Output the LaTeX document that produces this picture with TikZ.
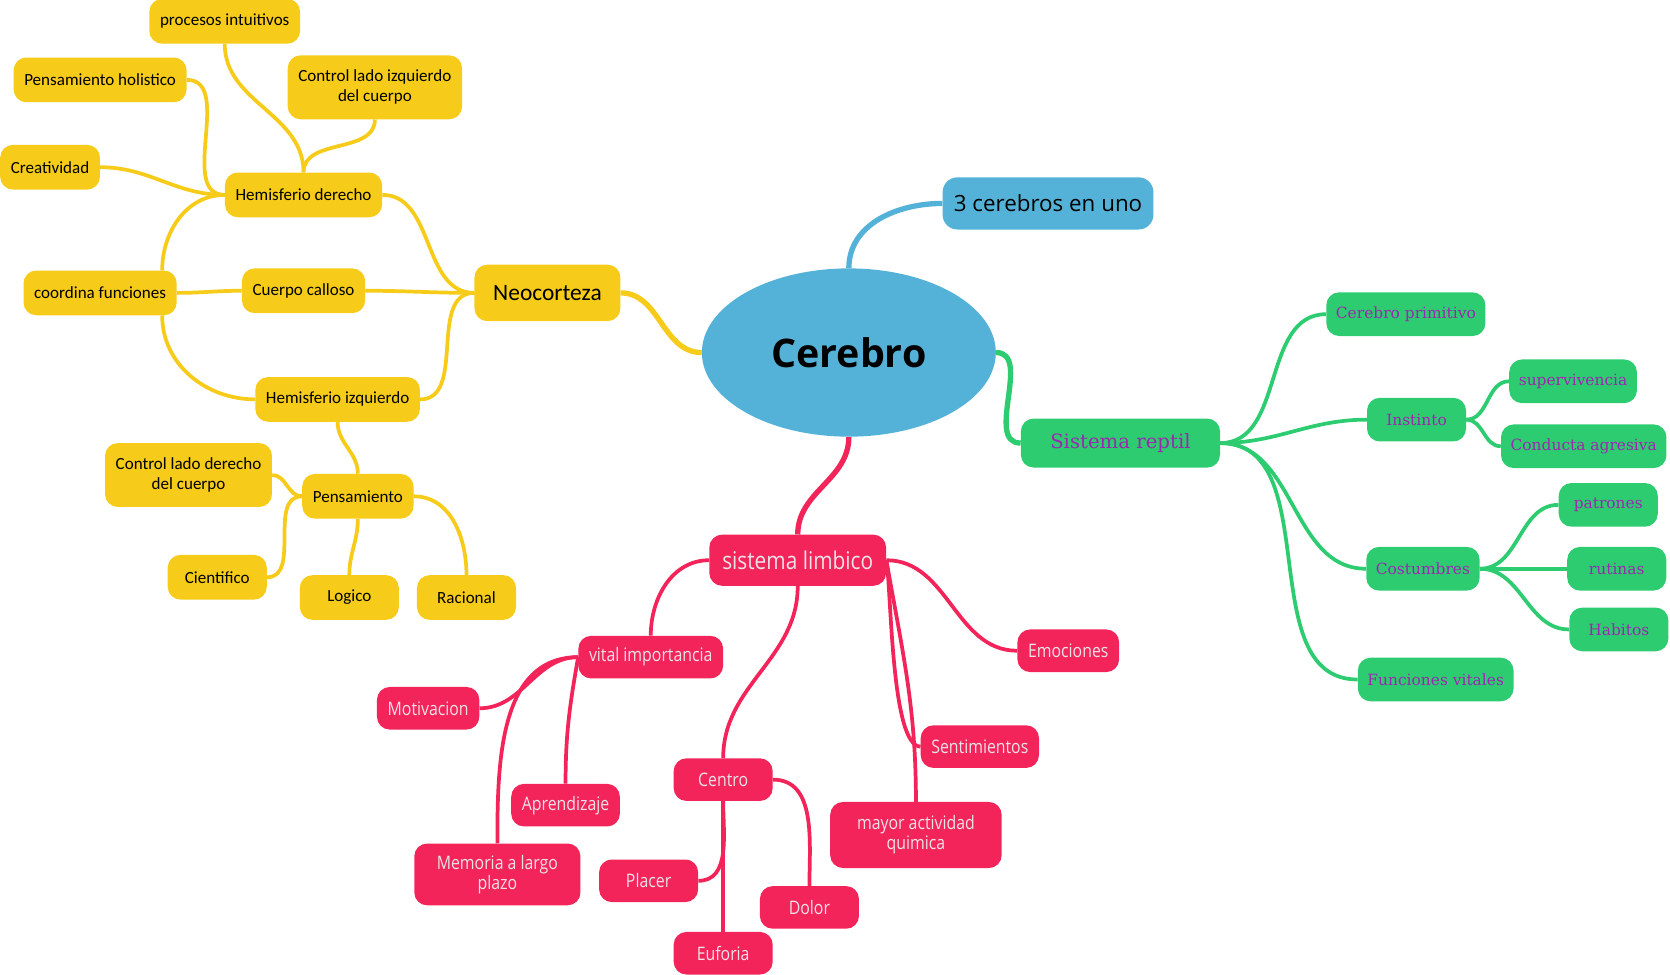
\documentclass[tikz,border=0pt]{standalone}
\usepackage{fontspec}
\setmainfont{Open Sans}
\newfontfamily\handfont{Carlito}
\newfontfamily\slabfont{DejaVu Serif}
\newfontfamily\condfont[FakeStretch=0.85]{Open Sans}
\usepackage{tikz}
\usetikzlibrary{backgrounds, shapes.geometric}
\definecolor{mapyellow}{RGB}{246,203,26}
\definecolor{mapgreen}{RGB}{46,204,113}
\definecolor{mappink}{RGB}{242,36,89}
\definecolor{mapblue}{RGB}{84,178,216}
\definecolor{mappurple}{RGB}{156,39,176}
\definecolor{pinktext}{RGB}{234,226,232}

\begin{document}
\begin{tikzpicture}[x=1pt, y=1pt,
    every node/.style={rounded corners=12pt, align=center, inner ysep=0pt},
    yelbox/.style={fill=mapyellow, text=black, font=\handfont\fontsize{16}{19}\selectfont, inner xsep=10pt, minimum height=42pt, minimum width=93pt},
    grnbox/.style={fill=mapgreen, text=mappurple, font=\slabfont\fontsize{14.5}{17}\selectfont, inner xsep=9pt, minimum height=41pt, minimum width=93pt},
    pnkbox/.style={fill=mappink, text=pinktext, font=\condfont\fontsize{17.5}{19}\selectfont, inner xsep=10pt, minimum height=40pt, minimum width=93pt},
    rootlink/.style={line width=5pt},
    ylink/.style={draw=mapyellow, line width=3.5pt},
    glink/.style={draw=mapgreen, line width=3.5pt},
    plink/.style={draw=mappink, line width=3.5pt}]
    \useasboundingbox (0,0) rectangle (1568,-915);

    \node[fill=mapblue, ellipse, minimum width=276pt, minimum height=158pt, font=\bfseries\fontsize{37}{40}\selectfont] (cer) at (797,-331) {Cerebro};
    \node[fill=mapblue, rounded corners=14pt, minimum width=198pt, minimum height=49pt, font=\fontsize{21}{24}\selectfont] (tres) at (984,-191) {3 cerebros en uno};

    % Neocorteza
    \node[yelbox, font=\handfont\fontsize{22}{26}\selectfont, minimum width=137pt, minimum height=53pt] (neo) at (514,-275) {Neocorteza};
    \node[yelbox] (hd) at (285,-183) {Hemisferio derecho};
    \node[yelbox] (proc) at (211,-20) {procesos intuitivos};
    \node[yelbox] (hol) at (94,-75) {Pensamiento holistico};
    \node[yelbox, minimum height=60pt] (ctrli) at (352,-82) {Control lado izquierdo\\del cuerpo};
    \node[yelbox] (crea) at (47,-157) {Creatividad};
    \node[yelbox] (coord) at (94,-275) {coordina funciones};
    \node[yelbox] (cc) at (285,-273) {Cuerpo calloso};
    \node[yelbox] (hi) at (317,-375) {Hemisferio izquierdo};
    \node[yelbox] (pen) at (336,-466) {Pensamiento};
    \node[yelbox, minimum height=60pt] (ctrld) at (177,-446) {Control lado derecho\\del cuerpo};
    \node[yelbox] (cien) at (204,-542) {Cientifico};
    \node[yelbox] (log) at (328,-561) {Logico};
    \node[yelbox] (rac) at (438,-561) {Racional};

    % Sistema reptil
    \node[grnbox, font=\slabfont\fontsize{18.5}{22}\selectfont, minimum width=187pt, minimum height=46pt] (rep) at (1052,-416) {Sistema reptil};
    \node[grnbox] (prim) at (1320,-295) {Cerebro primitivo};
    \node[grnbox] (inst) at (1330,-394) {Instinto};
    \node[grnbox] (sup) at (1477,-358) {supervivencia};
    \node[grnbox] (cond) at (1487,-419) {Conducta agresiva};
    \node[grnbox] (cost) at (1336,-534) {Costumbres};
    \node[grnbox] (pat) at (1510,-474) {patrones};
    \node[grnbox] (rut) at (1518,-534) {rutinas};
    \node[grnbox] (hab) at (1520,-591) {Habitos};
    \node[grnbox] (func) at (1348,-638) {Funciones vitales};

    % sistema limbico
    \node[pnkbox, font=\condfont\fontsize{23}{26}\selectfont, minimum width=166pt, minimum height=48pt] (lim) at (749,-526) {sistema limbico};
    \node[pnkbox] (vital) at (611,-617) {vital importancia};
    \node[pnkbox] (mot) at (402,-665) {Motivacion};
    \node[pnkbox] (apr) at (531,-756) {Aprendizaje};
    \node[pnkbox, minimum width=156pt, minimum height=58pt] (mem) at (467,-821) {Memoria a largo\\plazo};
    \node[pnkbox] (cen) at (679,-732) {Centro};
    \node[pnkbox] (pla) at (609,-827) {Placer};
    \node[pnkbox] (dol) at (760,-852) {Dolor};
    \node[pnkbox] (euf) at (679,-895) {Euforia};
    \node[pnkbox] (emo) at (1003,-611) {Emociones};
    \node[pnkbox] (sent) at (920,-701) {Sentimientos};
    \node[pnkbox, minimum width=161pt, minimum height=62pt] (quim) at (860,-784) {mayor actividad\\quimica};

    \begin{pgfonlayer}{background}
    \draw[rootlink, mapblue] (cer.north) to[out=90,in=180] (tres.west);
    \draw[rootlink, mapyellow] (cer.west) to[out=180,in=0] (neo.east);
    \draw[rootlink, mapgreen] (cer.east) to[out=0,in=180] (rep.west);
    \draw[rootlink, mappink] (cer.south) to[out=-90,in=90] (lim.north);

    \draw[ylink] (neo.west) to[out=180,in=0] (hd.east);
    \draw[ylink] (neo.west) to[out=180,in=0] (cc.east);
    \draw[ylink] (neo.west) to[out=180,in=0] (hi.east);
    \draw[ylink] (hd.west) to[out=180,in=0] (crea.east);
    \draw[ylink] (hd.west) to[out=180,in=0] (hol.east);
    \draw[ylink] (hd.west) to[out=180,in=90] (coord.20);
    \draw[ylink] (hd.north) to[out=90,in=-90] (proc.south);
    \draw[ylink] (hd.north) to[out=90,in=-90] (ctrli.south);
    \draw[ylink] (cc.west) to[out=180,in=0] (coord.east);
    \draw[ylink] (hi.west) to[out=180,in=-90] (coord.-20);
    \draw[ylink] (hi.south) to[out=-90,in=90] (pen.north);
    \draw[ylink] (pen.west) to[out=180,in=0] (ctrld.east);
    \draw[ylink] (pen.west) to[out=180,in=0] (cien.east);
    \draw[ylink] (pen.south) to[out=-90,in=90] (log.north);
    \draw[ylink] (pen.east) to[out=0,in=90] (rac.north);

    \draw[glink] (rep.east) to[out=0,in=180] (prim.west);
    \draw[glink] (rep.east) to[out=0,in=180] (inst.west);
    \draw[glink] (rep.east) to[out=0,in=180] (cost.west);
    \draw[glink] (rep.east) to[out=0,in=180] (func.west);
    \draw[glink] (inst.east) to[out=0,in=180] (sup.west);
    \draw[glink] (inst.east) to[out=0,in=180] (cond.west);
    \draw[glink] (cost.east) to[out=0,in=180] (pat.west);
    \draw[glink] (cost.east) to[out=0,in=180] (rut.west);
    \draw[glink] (cost.east) to[out=0,in=180] (hab.west);

    \draw[plink] (lim.west) to[out=180,in=90] (vital.north);
    \draw[plink] (lim.south) to[out=-90,in=90] (cen.north);
    \draw[plink] (lim.east) to[out=0,in=180] (emo.west);
    \draw[plink] (lim.east) to[out=-80,in=180,looseness=0.4] (sent.west);
    \draw[plink] (lim.east) to[out=-80,in=90] (quim.north);
    \draw[plink] (vital.west) to[out=180,in=0] (mot.east);
    \draw[plink] (vital.west) to[out=-100,in=90] (apr.north);
    \draw[plink] (vital.west) to[out=180,in=90] (mem.north);
    \draw[plink] (cen.south) to[out=-90,in=0] (pla.east);
    \draw[plink] (cen.south) -- (euf.north);
    \draw[plink] (cen.east) to[out=0,in=90] (dol.north);
    \end{pgfonlayer}
\end{tikzpicture}
\end{document}
